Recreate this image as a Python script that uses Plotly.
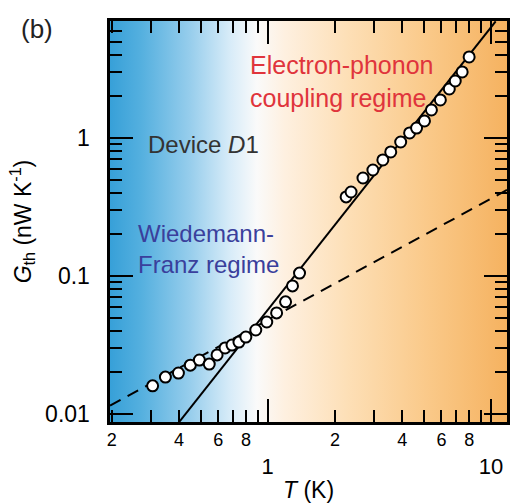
import plotly.graph_objects as go
import math
import base64

# ---- data ----
T_data = [0.305, 0.348, 0.398, 0.450, 0.494, 0.547, 0.593, 0.644, 0.692, 0.743,
          0.798, 0.884, 0.990, 1.096, 1.202, 1.291, 1.388,
          2.245, 2.362, 2.671, 2.959, 3.279, 3.557, 3.941, 4.321, 4.642,
          5.037, 5.412, 5.934, 6.507, 6.918, 7.430, 7.985]
G_data = [0.0160, 0.0185, 0.0198, 0.0226, 0.0246, 0.0230, 0.0268, 0.0301, 0.0316, 0.0332,
          0.0361, 0.0406, 0.0464, 0.0540, 0.0650, 0.0847, 0.105,
          0.374, 0.406, 0.513, 0.586, 0.693, 0.792, 0.935, 1.087, 1.18,
          1.328, 1.596, 1.886, 2.265, 2.588, 3.008, 3.864]

# fitted lines (end points)
ep_T = [0.40, 10.5]
ep_G = [0.0087, 7.0]
wf_T = [0.1965, 11.8]
wf_G = [0.0115, 0.42]

x_range = [0.1965, 11.8]
y_range = [0.00875, 7.04]

NB = "\u00a0"
x_minor_vals = [0.2, 0.3, 0.4, 0.5, 0.6, 0.7, 0.8, 0.9, 2, 3, 4, 5, 6, 7, 8, 9]
x_minor_text = ["2", "", "4", "", "6", "", "8", "", "2", "", "4", "", "6", "", "8", ""]
x_major_vals = [1, 10]
x_major_text = ["<br>1", "<br>10"]
y_major_vals = [0.01, 0.1, 1]
y_major_text = ["0.01" + NB * 2, "0.1" + NB * 2, "1" + NB * 2]
y_minor_vals = [0.02, 0.03, 0.04, 0.05, 0.06, 0.07, 0.08, 0.09,
                0.2, 0.3, 0.4, 0.5, 0.6, 0.7, 0.8, 0.9, 2, 3, 4, 5, 6, 7]

bg_stops = [
    (0.00, "rgb(55,160,216)"),
    (0.08, "rgb(85,176,223)"),
    (0.20, "rgb(150,205,236)"),
    (0.30, "rgb(214,235,248)"),
    (0.37, "rgb(250,250,250)"),
    (0.44, "rgb(254,240,224)"),
    (0.60, "rgb(253,223,182)"),
    (0.80, "rgb(250,201,137)"),
    (1.00, "rgb(245,178,96)"),
]

FONT = "Liberation Sans, Arial, sans-serif"

# background gradient as an SVG image behind the plot area
stops = "".join(f'<stop offset="{o}" stop-color="{c}"/>' for o, c in bg_stops)
svg = ('<svg xmlns="http://www.w3.org/2000/svg" width="400" height="400" '
       'viewBox="0 0 400 400" preserveAspectRatio="none">'
       f'<defs><linearGradient id="g" x1="0" x2="1" y1="0" y2="0">{stops}</linearGradient></defs>'
       '<rect width="400" height="400" fill="url(#g)"/></svg>')
svg_uri = "data:image/svg+xml;base64," + base64.b64encode(svg.encode()).decode()

fig = go.Figure()

fig.add_trace(go.Scatter(x=wf_T, y=wf_G, mode="lines",
                         line=dict(color="black", width=2, dash="12px,8px"),
                         showlegend=False))
fig.add_trace(go.Scatter(x=ep_T, y=ep_G, mode="lines",
                         line=dict(color="black", width=2),
                         showlegend=False))
fig.add_trace(go.Scatter(x=T_data, y=G_data, mode="markers",
                         marker=dict(symbol="circle", size=11, color="white",
                                     line=dict(color="black", width=2)),
                         showlegend=False))
# invisible traces so every overlay axis gets its subplot
for xa, ya in [("x2", "y"), ("x3", "y"), ("x4", "y"), ("x", "y2"), ("x", "y3"), ("x", "y4")]:
    fig.add_trace(go.Scatter(x=[1], y=[0.1], xaxis=xa, yaxis=ya, mode="markers",
                             marker=dict(opacity=0), hoverinfo="skip", showlegend=False))

lr = [math.log10(v) for v in x_range]
yr = [math.log10(v) for v in y_range]

tick_common = dict(showgrid=False, zeroline=False, ticks="inside", tickwidth=2,
                   tickcolor="black", tickmode="array")

fig.update_layout(
    width=510, height=503,
    margin=dict(l=110, r=0, t=21, b=81),
    paper_bgcolor="white", plot_bgcolor="rgba(0,0,0,0)",
    font=dict(family=FONT, color="black"),
    showlegend=False,
    images=[dict(source=svg_uri, xref="paper", yref="paper", x=0, y=1,
                 sizex=1, sizey=1, xanchor="left", yanchor="top",
                 sizing="stretch", layer="below")],
    xaxis=dict(type="log", range=lr, showline=True, linecolor="black", linewidth=2.5,
               mirror="ticks", tickvals=x_minor_vals, ticktext=x_minor_text, ticklen=12,
               tickfont=dict(size=18, family=FONT),
               title=dict(text="<i>T</i> (K)", font=dict(size=23, family=FONT), standoff=34),
               **tick_common),
    xaxis2=dict(type="log", range=lr, overlaying="x", anchor="y", side="bottom",
                showline=False, tickvals=x_major_vals, ticktext=x_major_text, ticklen=23,
                tickfont=dict(size=22, family=FONT), **tick_common),
    xaxis3=dict(type="log", range=lr, overlaying="x", anchor="y", side="top",
                showline=False, tickvals=x_minor_vals, ticklen=12, showticklabels=False,
                **tick_common),
    xaxis4=dict(type="log", range=lr, overlaying="x", anchor="y", side="top",
                showline=False, tickvals=x_major_vals, ticklen=23, showticklabels=False,
                **tick_common),
    yaxis=dict(type="log", range=yr, showline=True, linecolor="black", linewidth=2.5,
               mirror="ticks", tickvals=y_major_vals, ticktext=y_major_text, ticklen=23,
               tickfont=dict(size=23, family=FONT),
               title=dict(text="<i>G</i><sub>th</sub> (nW K<sup>-1</sup>)",
                          font=dict(size=23, family=FONT), standoff=8),
               **tick_common),
    yaxis2=dict(type="log", range=yr, overlaying="y", anchor="x", side="left",
                showline=False, tickvals=y_minor_vals, ticklen=12, showticklabels=False,
                **tick_common),
    yaxis3=dict(type="log", range=yr, overlaying="y", anchor="x", side="right",
                showline=False, tickvals=y_major_vals, ticklen=23, showticklabels=False,
                **tick_common),
    yaxis4=dict(type="log", range=yr, overlaying="y", anchor="x", side="right",
                showline=False, tickvals=y_minor_vals, ticklen=12, showticklabels=False,
                **tick_common),
)

ann = [
    dict(text="(b)", x=-0.185, y=0.98, xanchor="center", yanchor="middle",
         font=dict(size=26, color="#222222")),
    dict(text="Electron-phonon<br>coupling regime", x=0.348, y=0.848, xanchor="left",
         yanchor="middle", align="left", font=dict(size=25, color="#e0343c")),
    dict(text="Device <i>D</i>1", x=0.09, y=0.691, xanchor="left", yanchor="middle",
         font=dict(size=24, color="#333333")),
    dict(text="Wiedemann-<br>Franz regime", x=0.065, y=0.431, xanchor="left",
         yanchor="middle", align="left", font=dict(size=24, color="#3a3f9c")),
]
for a in ann:
    a.update(xref="paper", yref="paper", showarrow=False)
    a["font"]["family"] = FONT
fig.update_layout(annotations=ann)

fig.write_html("out.html")
